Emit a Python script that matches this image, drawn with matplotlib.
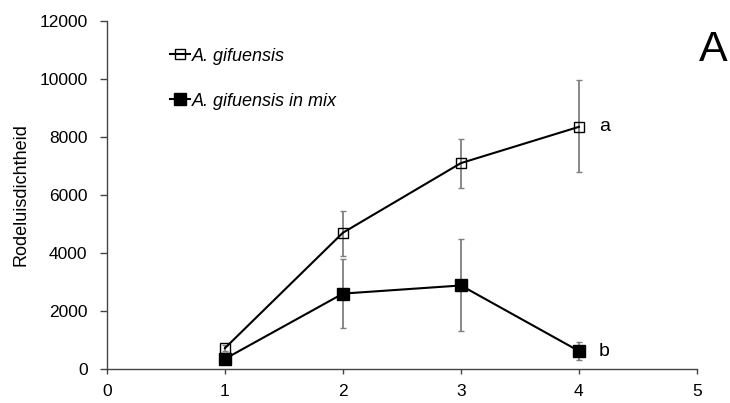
import matplotlib
matplotlib.use("Agg")
import matplotlib.pyplot as plt

plt.rcParams['font.family'] = ['Liberation Sans', 'DejaVu Sans']

weeks = [1, 2, 3, 4]
alone = [720, 4700, 7100, 8350]
alone_up = [100, 750, 820, 1600]
alone_lo = [100, 800, 850, 1550]
mix = [350, 2600, 2880, 620]
mix_up = [0, 1200, 1600, 300]
mix_lo = [0, 1170, 1560, 300]
xticks = [0, 1, 2, 3, 4, 5]
yticks = [0, 2000, 4000, 6000, 8000, 10000, 12000]
letters = ['a', 'b']

fig = plt.figure(figsize=(7.30, 4.03), dpi=100)
ax = fig.add_axes([0.1466, 0.0844, 0.808, 0.8635])

ax.errorbar(weeks, alone, yerr=[alone_lo, alone_up], fmt='none', ecolor='#7f7f7f',
            elinewidth=1.3, capsize=2.5, capthick=1.0, zorder=1)
ax.errorbar(weeks, mix, yerr=[mix_lo, mix_up], fmt='none', ecolor='#7f7f7f',
            elinewidth=1.3, capsize=2.5, capthick=1.0, zorder=1)
ax.plot(weeks, alone, color='black', lw=1.5, marker='s', markersize=7.5,
        markerfacecolor='none', markeredgecolor='black', markeredgewidth=1.0,
        label='A. gifuensis', zorder=3)
ax.plot(weeks, mix, color='black', lw=1.5, marker='s', markersize=8.5,
        markerfacecolor='black', markeredgecolor='black',
        label='A. gifuensis in mix', zorder=3)

ax.set_xlim(0, 5)
ax.set_ylim(0, 12000)
ax.set_xticks(xticks)
ax.set_yticks(yticks)
ax.tick_params(axis='both', labelsize=12.5, direction='out', width=1, color='#444444')
ax.tick_params(axis='x', length=3.5, pad=7)
ax.tick_params(axis='y', length=5, pad=9)
for s in ['top', 'right']:
    ax.spines[s].set_visible(False)
for s in ['left', 'bottom']:
    ax.spines[s].set_color('#444444')
    ax.spines[s].set_linewidth(1)
ax.set_ylabel('Rodeluisdichtheid', fontsize=13, labelpad=7)

leg = ax.legend(loc='upper left', bbox_to_anchor=(0.08, 0.97), frameon=False,
                handlelength=1.1, handletextpad=0.1, labelspacing=1.55,
                prop={'size': 13, 'style': 'italic'})

ax.text(4.17, alone[3], letters[0], fontsize=14, va='center', ha='left')
ax.text(4.17, mix[3], letters[1], fontsize=14, va='center', ha='left')
ax.text(1.027, 0.917, 'A', transform=ax.transAxes, fontsize=31, ha='center', va='center')

fig.savefig('out.png', dpi=100)
